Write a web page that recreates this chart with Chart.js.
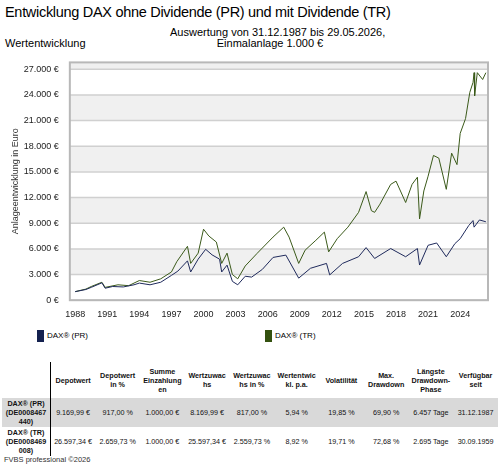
<!DOCTYPE html>
<html><head><meta charset="utf-8">
<script src="https://cdn.jsdelivr.net/npm/chart.js@4/dist/chart.umd.min.js"></script>
<style>
body{margin:0;width:500px;height:467px;position:relative;font-family:Arial,"Liberation Sans",sans-serif;background:#fff;overflow:hidden}
.t{position:absolute;white-space:nowrap;color:#000}
#wrap{position:absolute;left:0;top:54px;width:500px;height:267px}
table{position:absolute;left:2px;top:362px;width:496px;border-collapse:collapse;font-size:7.2px;line-height:9px;table-layout:fixed}
td,th{text-align:center;padding:0 1px;color:#111}
td{white-space:nowrap}
th{font-weight:bold;height:36px}
tr.g td{background:#d9d9d9}
td.l{font-weight:bold;border-right:1px solid #000;white-space:normal}
th.l{border-right:1px solid #000;width:46px}
tr.r td{height:29px}
.sq{position:absolute;width:7px;height:12px}
</style></head><body>
<div class="t" style="left:5px;top:4px;font-size:14.5px;letter-spacing:-0.3px">Entwicklung DAX ohne Dividende (PR) und mit Dividende (TR)</div>
<div class="t" style="left:5px;top:37px;font-size:11px">Wertentwicklung</div>
<div class="t" style="left:170px;top:27px;width:200px;text-align:center;font-size:11px;line-height:11px">Auswertung von 31.12.1987 bis 29.05.2026,<br>Einmalanlage 1.000 €</div>
<div id="wrap"><canvas id="c" width="500" height="267"></canvas></div>
<div class="sq" style="left:37px;top:330px;background:#14214f"></div>
<div class="t" style="left:47px;top:331px;font-size:8px">DAX® (PR)</div>
<div class="sq" style="left:265px;top:330px;background:#34510f"></div>
<div class="t" style="left:275px;top:331px;font-size:8px">DAX® (TR)</div>
<table id="tb"></table>
<div class="t" style="left:4px;top:455px;font-size:7.5px;color:#333">FVBS professional ©2026</div>
<script>
const yearsPR=[1988,1989,1989.5,1990.5,1990.8,1991.5,1992.5,1993.5,1994,1995,1996,1997,1997.6,1998.5,1998.8,1999.5,2000.2,2000.8,2001.5,2001.7,2002.2,2002.7,2003.2,2003.9,2004.5,2005.5,2006.5,2007.7,2008.9,2010,2011.5,2011.8,2013,2014.5,2015.2,2016,2017.5,2018.9,2020,2020.2,2021,2021.8,2022.7,2023.5,2024,2024.8,2025.2,2025.3,2025.8,2026.4];
const valuesPR=[1000,1250,1500,2030,1400,1600,1550,1800,2000,1800,2100,2900,3400,4600,3300,4800,5950,5300,4800,3300,4100,2200,1800,2800,2700,3600,5000,5270,2580,3730,4300,2960,4300,5080,6150,4880,6040,5080,6040,4110,6420,6690,5080,6610,7190,8730,9310,8540,9380,9170];
const yearsTR=[1988,1989,1989.5,1990.5,1990.8,1992,1993,1994,1995,1996,1997,1997.5,1998.5,1998.8,1999.5,2000,2000.5,2001.2,2001.7,2002.2,2002.7,2003.2,2003.9,2005,2006.5,2007.5,2008,2008.9,2009.5,2010.5,2011.3,2011.7,2012.5,2013.5,2014.5,2015.2,2015.7,2016,2016.5,2017.5,2018,2018.9,2019.5,2020,2020.2,2020.6,2021,2021.5,2022,2022.7,2023.2,2023.7,2024,2024.5,2024.9,2025.2,2025.3,2025.35,2025.6,2026.1,2026.4];
const valuesTR=[1000,1300,1600,2100,1500,1800,1700,2300,2100,2500,3300,4500,6300,4300,5500,8300,7500,6800,4300,5500,3000,2500,4000,5460,7380,8540,7380,4300,5850,7000,7960,5650,7190,8540,10270,12700,10460,10270,11230,13540,13920,11420,13540,14380,9500,12770,14500,16920,16610,12960,17190,15850,19500,21230,24300,25460,26600,23900,26600,25800,26597];
const yTicks=[0,3000,6000,9000,12000,15000,18000,21000,24000,27000];
const xTicks=[1988,1991,1994,1997,2000,2003,2006,2009,2012,2015,2018,2021,2024];
const headers=["","Depotwert","Depotwert in %","Summe Einzahlung en","Wertzuwac hs","Wertzuwac hs in %","Wertentwic kl. p.a.","Volatilität","Max. Drawdown","Längste Drawdown-Phase","Verfügbar seit"];
const rowPR=["DAX® (PR) (DE0008467 440)","9.169,99 €","917,00 %","1.000,00 €","8.169,99 €","817,00 %","5,94 %","19,85 %","69,90 %","6.457 Tage","31.12.1987"];
const rowTR=["DAX® (TR) (DE0008469 008)","26.597,34 €","2.659,73 %","1.000,00 €","25.597,34 €","2.559,73 %","8,92 %","19,71 %","72,68 %","2.695 Tage","30.09.1959"];
const fmt=v=>v.toLocaleString('de-DE')+' €';
const tb=document.getElementById('tb');
tb.innerHTML='<tr>'+headers.map((h,i)=>`<th class="${i?'':'l'}">${h}</th>`).join('')+'</tr>'+
[rowPR,rowTR].map((r,j)=>`<tr class="r ${j?'':'g'}">`+r.map((c,i)=>`<td class="${i?'':'l'}">${c}</td>`).join('')+'</tr>').join('');
const bands={id:'bands',beforeDatasetsDraw(ch){const {ctx,chartArea:a,scales:{y}}=ch;ctx.save();
 for(let v=3000;v<30000;v+=6000){const t=Math.max(a.top,y.getPixelForValue(v+3000)),b=y.getPixelForValue(v);ctx.fillStyle='#f0f0f0';ctx.fillRect(a.left,t,a.right-a.left,b-t);}
 ctx.strokeStyle='#d0d0d0';ctx.lineWidth=1.5;yTicks.forEach(v=>{const p=y.getPixelForValue(v);ctx.beginPath();ctx.moveTo(a.left,p);ctx.lineTo(a.right,p);ctx.stroke();});
 ctx.strokeStyle='#b8b8b8';ctx.lineWidth=2;ctx.strokeRect(a.left,a.top,a.right-a.left,a.bottom-a.top);ctx.restore();}};
new Chart(document.getElementById('c'),{type:'line',
 data:{datasets:[
  {label:'DAX® (PR)',data:yearsPR.map((x,i)=>({x,y:valuesPR[i]})),borderColor:'#1f2a5c',borderWidth:1,pointRadius:0,tension:0},
  {label:'DAX® (TR)',data:yearsTR.map((x,i)=>({x,y:valuesTR[i]})),borderColor:'#3b5a1a',borderWidth:1,pointRadius:0,tension:0}]},
 options:{responsive:false,animation:false,maintainAspectRatio:false,
  layout:{padding:{left:10,right:12,top:7,bottom:0}},
  plugins:{legend:{display:false},tooltip:{enabled:false}},
  scales:{
   x:{type:'linear',min:1987.5,max:2026.6,afterBuildTicks:s=>{s.ticks=xTicks.map(v=>({value:v}))},
      grid:{display:false,drawTicks:true},border:{color:'#999'},
      ticks:{color:'#222',font:{size:9},maxRotation:0,padding:1,callback:v=>String(v)}},
   y:{min:0,max:27800,afterBuildTicks:s=>{s.ticks=yTicks.map(v=>({value:v}))},
      grid:{display:false},border:{color:'#999'},
      title:{display:true,text:'Anlageentwicklung in Euro',color:'#333',font:{size:9},padding:0},
      ticks:{color:'#222',font:{size:9},callback:fmt}}}},
 plugins:[bands]});
</script>
</body></html>
